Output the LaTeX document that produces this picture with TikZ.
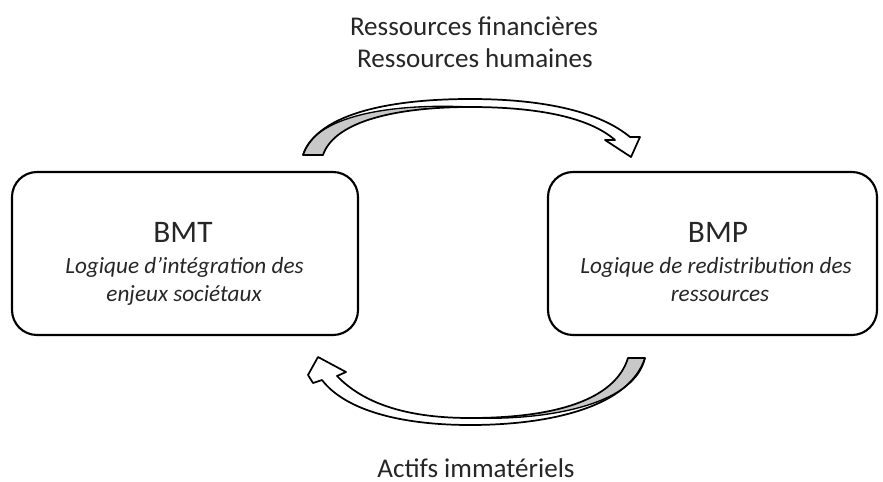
\documentclass[tikz,border=0pt]{standalone}
\usepackage{fontspec}
\setmainfont{Carlito}
\begin{document}
\begin{tikzpicture}[x=0.75pt,y=-0.75pt, line join=round,
  box/.style={draw=black, line width=1.6pt, rounded corners=18.75pt, inner sep=0pt, minimum height=122.25pt},
  title/.style={font=\fontsize{23.5}{28}\selectfont, text=black!85, anchor=base, inner sep=0pt},
  sub/.style={font=\fontsize{17.4}{21}\selectfont\itshape, text=black!85, anchor=base, inner sep=0pt},
  lab/.style={font=\fontsize{20.3}{24}\selectfont, text=black!85, anchor=base, inner sep=0pt},
  arrowline/.style={draw=black, line width=1.3pt},
  midline/.style={draw=black, line width=1pt},
  shade/.style={fill=arrowgray},
]
\definecolor{arrowgray}{RGB}{200,200,200}
\useasboundingbox (0,0) rectangle (883,482);

% boxes
\node[box, minimum width=259.5pt] (bmt) at (185,253.5) {};
\node[box, minimum width=246.75pt] (bmp) at (712.5,253.5) {};

% box texts
\node[title] (bmtt) at (183,242) {BMT};
\node[sub] (bmt1) at (184.5,273) {Logique d’intégration des};
\node[sub] (bmt2) at (184,301) {enjeux sociétaux};
\node[title] (bmpt) at (718,242) {BMP};
\node[sub] (bmp1) at (716,273) {Logique de redistribution des};
\node[sub] (bmp2) at (720,301) {ressources};

% labels
\node[lab] (r1) at (474,35) {Ressources financières};
\node[lab] (r2) at (475,67) {Ressources humaines};
\node[lab] (act) at (476,477) {Actifs immatériels};

% top curved arrow (BMT -> BMP)
\fill[white] (303,155) .. controls (318,112) and (395,99) .. (470,99)
  .. controls (545,99) and (600,112) .. (630,137) -- (640,137) -- (631,157)
  -- (605,140) -- (615,140) .. controls (590,118) and (540,107) .. (470,107)
  .. controls (400,107) and (335,120) .. (323,155) -- cycle;
\fill[shade] (303,155) .. controls (314,116) and (390,103) .. (470,107)
  .. controls (400,107) and (335,120) .. (323,155) -- cycle;
\draw[midline] (303,155) .. controls (314,116) and (390,103) .. (470,107);
\draw[arrowline] (303,155) .. controls (318,112) and (395,99) .. (470,99)
  .. controls (545,99) and (600,112) .. (630,137) -- (640,137) -- (631,157)
  -- (605,140) -- (615,140) .. controls (590,118) and (540,107) .. (470,107)
  .. controls (400,107) and (335,120) .. (323,155) -- cycle;

% bottom curved arrow (BMP -> BMT)
\fill[white] (645,358) .. controls (630,405) and (555,425) .. (470,425)
  .. controls (400,425) and (345,410) .. (322,380) -- (313,383) -- (308,375)
  -- (318,357) -- (346,372) -- (337,376) .. controls (365,405) and (410,418) .. (470,418)
  .. controls (555,418) and (615,400) .. (628,358) -- cycle;
\fill[shade] (645,358) .. controls (636,402) and (555,421) .. (470,418)
  .. controls (555,418) and (615,400) .. (628,358) -- cycle;
\draw[midline] (645,358) .. controls (636,402) and (555,421) .. (470,418);
\draw[arrowline] (645,358) .. controls (630,405) and (555,425) .. (470,425)
  .. controls (400,425) and (345,410) .. (322,380) -- (313,383) -- (308,375)
  -- (318,357) -- (346,372) -- (337,376) .. controls (365,405) and (410,418) .. (470,418)
  .. controls (555,418) and (615,400) .. (628,358) -- cycle;
\end{tikzpicture}
\end{document}
